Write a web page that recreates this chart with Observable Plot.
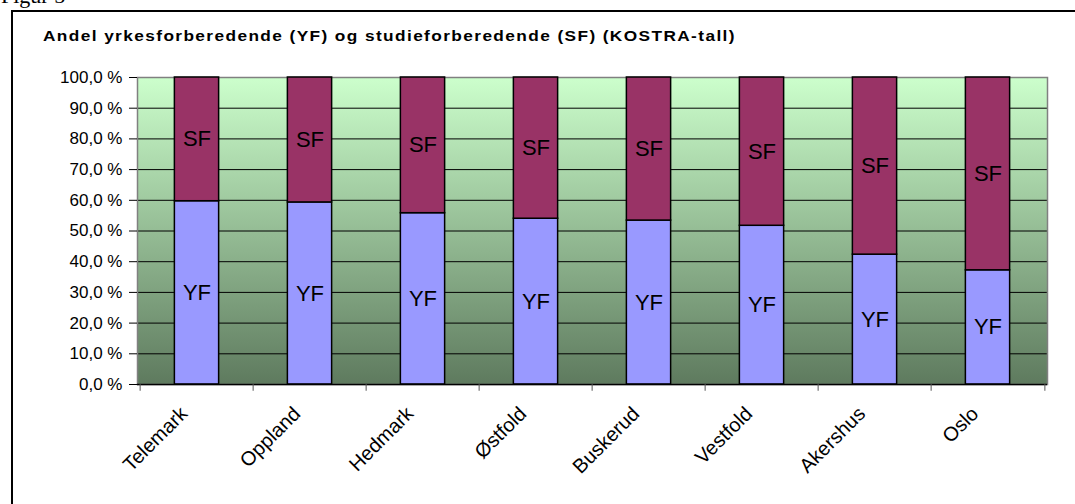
<!DOCTYPE html>
<html><head><meta charset="utf-8">
<script src="https://cdn.jsdelivr.net/npm/d3@7"></script>
<script src="https://cdn.jsdelivr.net/npm/@observablehq/plot@0.6"></script>
<style>
body{margin:0;width:1075px;height:504px;overflow:hidden;background:#fff;position:relative;font-family:Arial,"Liberation Sans",sans-serif;}
#fig{position:absolute;left:1px;top:-15px;font-size:22px;line-height:22px;font-family:"Liberation Serif","Times New Roman",serif;white-space:nowrap;}
#box{position:absolute;left:11px;top:10px;width:1100px;height:600px;border:2px solid #000;}
#title{position:absolute;left:43px;top:28px;font-weight:bold;font-size:15px;line-height:15px;letter-spacing:1.22px;white-space:nowrap;transform:scaleX(1.15);transform-origin:0 0;color:#000;}
#chart{position:absolute;left:0;top:60px;}
</style></head><body>
<div id="fig">Figur 5</div>
<div id="box"></div>
<div id="title">Andel yrkesforberedende (YF) og studieforberedende (SF) (KOSTRA-tall)</div>
<div id="chart"></div>
<script>
const categories = ["Telemark","Oppland","Hedmark","Østfold","Buskerud","Vestfold","Akershus","Oslo"];
const yfValues = [59.7, 59.3, 55.8, 54.0, 53.4, 51.7, 42.3, 37.2];
const sfValues = [40.3, 40.7, 44.2, 46.0, 46.6, 48.3, 57.7, 62.8];
const seriesNames = ["YF", "SF"];
const seriesColors = ["#9999FF", "#993366"];
const yTicks = [0, 10, 20, 30, 40, 50, 60, 70, 80, 90, 100];

const rows = [];
categories.forEach((c, i) => {
  rows.push({cat: c, series: "YF", value: yfValues[i]});
  rows.push({cat: c, series: "SF", value: sfValues[i]});
});

const W = 1075, H = 444;
const mL = 137, mR = 28, mT = 17, mB = 120;
const bw = (W - mL - mR) / categories.length;
const barW = 45;
const inset = (bw - barW) / 2;

const svg = Plot.plot({
  width: W, height: H,
  marginLeft: mL, marginRight: mR, marginTop: mT, marginBottom: mB,
  style: {fontFamily: "Arial, 'Liberation Sans', sans-serif", color: "#000", background: "transparent", overflow: "visible"},
  x: {domain: categories, padding: 0, label: null},
  y: {domain: [0, 100], label: null},
  color: {domain: seriesNames, range: seriesColors},
  marks: [
    Plot.frame({fill: "url(#bgGrad)", stroke: null}),
    Plot.ruleY(yTicks, {stroke: "#000", strokeWidth: 1}),
    Plot.frame({stroke: "#808080", strokeWidth: 1.5}),
    Plot.barY(rows, Plot.stackY({x: "cat", y: "value", z: "series", fill: "series", order: seriesNames, stroke: "#000", strokeWidth: 1.5, insetLeft: inset, insetRight: inset})),
    Plot.text(rows, Plot.stackY({x: "cat", y: "value", z: "series", text: "series", order: seriesNames, fontSize: 22, fill: "#000"})),
    Plot.ruleY([0], {stroke: "#000", strokeWidth: 1.5}),
    Plot.ruleX(categories, {x: d => d, y1: 0, y2: -2.2, dx: -bw / 2, stroke: "#555"}),
    Plot.ruleX([categories[categories.length - 1]], {x: d => d, y1: 0, y2: -2.2, dx: bw / 2, stroke: "#555"}),
    Plot.axisY({ticks: yTicks, tickFormat: d => d.toFixed(1).replace(".", ",") + " %", tickSize: 8, tickPadding: 7, fontSize: 17, stroke: "#000", style: {letterSpacing: "0.6px"}}),
    Plot.axisX({tickSize: 0, tickRotate: -45, tickPadding: 26, dx: -13, fontSize: 20})
  ]
});

const defs = d3.select(svg).insert("defs", ":first-child");
const g = defs.append("linearGradient").attr("id", "bgGrad").attr("x1", 0).attr("y1", 0).attr("x2", 0).attr("y2", 1);
g.append("stop").attr("offset", "0%").attr("stop-color", "#CCFFCC");
g.append("stop").attr("offset", "100%").attr("stop-color", "#5E7A5E");

document.getElementById("chart").appendChild(svg);
</script>
</body></html>
